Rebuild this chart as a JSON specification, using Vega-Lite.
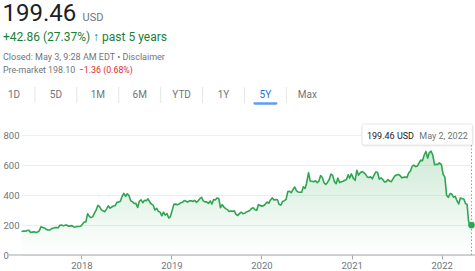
{
  "$schema": "https://vega.github.io/schema/vega-lite/v6.json",
  "width": 475,
  "height": 271,
  "autosize": {"type": "none"},
  "padding": 0,
  "background": "#ffffff",
  "config": {"view": {"stroke": null}, "font": "Roboto", "text": {"font": "Roboto"}},
  "datasets": {
    "prices": [
      {"date": "2017-05-03", "price": 156.6}, {"date": "2017-05-12", "price": 160.3}, {"date": "2017-05-19", "price": 158.0},
      {"date": "2017-05-26", "price": 163.1}, {"date": "2017-06-02", "price": 165.2}, {"date": "2017-06-09", "price": 149.6},
      {"date": "2017-06-16", "price": 152.4}, {"date": "2017-06-23", "price": 155.0}, {"date": "2017-06-30", "price": 149.4},
      {"date": "2017-07-07", "price": 152.6}, {"date": "2017-07-14", "price": 161.1}, {"date": "2017-07-21", "price": 188.5},
      {"date": "2017-07-28", "price": 183.7}, {"date": "2017-08-04", "price": 180.3}, {"date": "2017-08-11", "price": 171.0},
      {"date": "2017-08-18", "price": 166.5}, {"date": "2017-08-25", "price": 166.3}, {"date": "2017-09-01", "price": 174.6},
      {"date": "2017-09-08", "price": 179.0}, {"date": "2017-09-15", "price": 182.3}, {"date": "2017-09-22", "price": 183.0},
      {"date": "2017-09-29", "price": 181.4}, {"date": "2017-10-06", "price": 198.0}, {"date": "2017-10-13", "price": 199.5},
      {"date": "2017-10-20", "price": 194.2}, {"date": "2017-10-27", "price": 199.2}, {"date": "2017-11-03", "price": 199.0},
      {"date": "2017-11-10", "price": 192.0}, {"date": "2017-11-17", "price": 194.1}, {"date": "2017-11-24", "price": 195.8},
      {"date": "2017-12-01", "price": 186.9}, {"date": "2017-12-08", "price": 186.7}, {"date": "2017-12-15", "price": 190.1},
      {"date": "2017-12-22", "price": 189.9}, {"date": "2017-12-29", "price": 192.0}, {"date": "2018-01-05", "price": 205.6},
      {"date": "2018-01-12", "price": 220.3}, {"date": "2018-01-19", "price": 220.5}, {"date": "2018-01-26", "price": 274.6},
      {"date": "2018-02-02", "price": 258.0}, {"date": "2018-02-09", "price": 249.5}, {"date": "2018-02-16", "price": 256.1},
      {"date": "2018-02-23", "price": 278.5}, {"date": "2018-03-02", "price": 301.0}, {"date": "2018-03-09", "price": 331.4},
      {"date": "2018-03-16", "price": 321.4}, {"date": "2018-03-23", "price": 300.9}, {"date": "2018-03-29", "price": 295.4},
      {"date": "2018-04-06", "price": 288.9}, {"date": "2018-04-13", "price": 307.8}, {"date": "2018-04-20", "price": 327.8},
      {"date": "2018-04-27", "price": 311.9}, {"date": "2018-05-04", "price": 320.1}, {"date": "2018-05-11", "price": 326.3},
      {"date": "2018-05-18", "price": 328.5}, {"date": "2018-05-25", "price": 351.3}, {"date": "2018-06-01", "price": 352.6},
      {"date": "2018-06-08", "price": 357.8}, {"date": "2018-06-15", "price": 390.5}, {"date": "2018-06-22", "price": 411.1},
      {"date": "2018-06-29", "price": 391.4}, {"date": "2018-07-06", "price": 408.3}, {"date": "2018-07-13", "price": 395.8},
      {"date": "2018-07-20", "price": 361.0}, {"date": "2018-07-27", "price": 355.2}, {"date": "2018-08-03", "price": 343.4},
      {"date": "2018-08-10", "price": 344.5}, {"date": "2018-08-17", "price": 316.4}, {"date": "2018-08-24", "price": 358.8},
      {"date": "2018-08-31", "price": 367.7}, {"date": "2018-09-07", "price": 348.7}, {"date": "2018-09-14", "price": 364.6},
      {"date": "2018-09-21", "price": 361.2}, {"date": "2018-09-28", "price": 374.1}, {"date": "2018-10-05", "price": 352.5},
      {"date": "2018-10-12", "price": 339.3}, {"date": "2018-10-19", "price": 332.7}, {"date": "2018-10-26", "price": 299.8},
      {"date": "2018-11-02", "price": 311.4}, {"date": "2018-11-09", "price": 291.5}, {"date": "2018-11-16", "price": 285.9},
      {"date": "2018-11-23", "price": 261.4}, {"date": "2018-11-30", "price": 286.1}, {"date": "2018-12-07", "price": 266.3},
      {"date": "2018-12-14", "price": 276.0}, {"date": "2018-12-21", "price": 246.4}, {"date": "2018-12-28", "price": 256.1},
      {"date": "2019-01-04", "price": 297.6}, {"date": "2019-01-11", "price": 337.6}, {"date": "2019-01-18", "price": 339.1},
      {"date": "2019-01-25", "price": 335.7}, {"date": "2019-02-01", "price": 340.0}, {"date": "2019-02-08", "price": 347.6},
      {"date": "2019-02-15", "price": 351.4}, {"date": "2019-02-22", "price": 363.0}, {"date": "2019-03-01", "price": 358.2},
      {"date": "2019-03-08", "price": 352.7}, {"date": "2019-03-15", "price": 361.0}, {"date": "2019-03-22", "price": 361.0},
      {"date": "2019-03-29", "price": 356.6}, {"date": "2019-04-05", "price": 364.8}, {"date": "2019-04-12", "price": 351.1},
      {"date": "2019-04-19", "price": 360.4}, {"date": "2019-04-26", "price": 374.9}, {"date": "2019-05-03", "price": 385.0},
      {"date": "2019-05-10", "price": 360.8}, {"date": "2019-05-17", "price": 354.4}, {"date": "2019-05-24", "price": 354.4},
      {"date": "2019-05-31", "price": 343.3}, {"date": "2019-06-07", "price": 360.9}, {"date": "2019-06-14", "price": 339.7},
      {"date": "2019-06-21", "price": 370.0}, {"date": "2019-06-28", "price": 367.3}, {"date": "2019-07-05", "price": 380.5},
      {"date": "2019-07-12", "price": 376.7}, {"date": "2019-07-19", "price": 315.1}, {"date": "2019-07-26", "price": 335.8},
      {"date": "2019-08-02", "price": 319.5}, {"date": "2019-08-09", "price": 309.4}, {"date": "2019-08-16", "price": 302.8},
      {"date": "2019-08-23", "price": 290.4}, {"date": "2019-08-30", "price": 293.8}, {"date": "2019-09-06", "price": 291.0},
      {"date": "2019-09-13", "price": 294.1}, {"date": "2019-09-20", "price": 270.8}, {"date": "2019-09-27", "price": 263.1},
      {"date": "2019-10-04", "price": 276.0}, {"date": "2019-10-11", "price": 285.3}, {"date": "2019-10-18", "price": 276.0},
      {"date": "2019-10-25", "price": 278.0}, {"date": "2019-11-01", "price": 286.8}, {"date": "2019-11-08", "price": 291.6},
      {"date": "2019-11-15", "price": 296.9}, {"date": "2019-11-22", "price": 310.5}, {"date": "2019-11-29", "price": 314.7},
      {"date": "2019-12-06", "price": 302.0}, {"date": "2019-12-13", "price": 298.5}, {"date": "2019-12-20", "price": 336.9},
      {"date": "2019-12-27", "price": 329.1}, {"date": "2020-01-03", "price": 325.9}, {"date": "2020-01-10", "price": 329.1},
      {"date": "2020-01-17", "price": 339.7}, {"date": "2020-01-24", "price": 353.2}, {"date": "2020-01-31", "price": 345.1},
      {"date": "2020-02-07", "price": 366.8}, {"date": "2020-02-14", "price": 380.4}, {"date": "2020-02-21", "price": 366.6},
      {"date": "2020-02-28", "price": 369.0}, {"date": "2020-03-06", "price": 368.7}, {"date": "2020-03-13", "price": 336.3},
      {"date": "2020-03-20", "price": 332.8}, {"date": "2020-03-27", "price": 357.1}, {"date": "2020-04-03", "price": 361.8},
      {"date": "2020-04-10", "price": 370.7}, {"date": "2020-04-17", "price": 422.9}, {"date": "2020-04-24", "price": 424.0},
      {"date": "2020-05-01", "price": 415.3}, {"date": "2020-05-08", "price": 436.5}, {"date": "2020-05-15", "price": 453.4},
      {"date": "2020-05-22", "price": 429.3}, {"date": "2020-05-29", "price": 419.7}, {"date": "2020-06-05", "price": 418.3},
      {"date": "2020-06-12", "price": 419.0}, {"date": "2020-06-19", "price": 455.0}, {"date": "2020-06-26", "price": 443.4},
      {"date": "2020-07-02", "price": 476.9}, {"date": "2020-07-10", "price": 548.7}, {"date": "2020-07-17", "price": 492.9},
      {"date": "2020-07-24", "price": 492.0}, {"date": "2020-07-31", "price": 488.9}, {"date": "2020-08-07", "price": 494.7},
      {"date": "2020-08-14", "price": 482.7}, {"date": "2020-08-21", "price": 492.0}, {"date": "2020-08-28", "price": 529.6},
      {"date": "2020-09-04", "price": 516.1}, {"date": "2020-09-11", "price": 482.0}, {"date": "2020-09-18", "price": 469.9},
      {"date": "2020-09-25", "price": 483.9}, {"date": "2020-10-02", "price": 503.1}, {"date": "2020-10-09", "price": 539.4},
      {"date": "2020-10-16", "price": 530.7}, {"date": "2020-10-23", "price": 489.1}, {"date": "2020-10-30", "price": 475.7},
      {"date": "2020-11-06", "price": 513.0}, {"date": "2020-11-13", "price": 482.8}, {"date": "2020-11-20", "price": 488.2},
      {"date": "2020-11-27", "price": 491.4}, {"date": "2020-12-04", "price": 498.3}, {"date": "2020-12-11", "price": 503.2},
      {"date": "2020-12-18", "price": 534.5}, {"date": "2020-12-24", "price": 513.0}, {"date": "2020-12-31", "price": 540.7},
      {"date": "2021-01-08", "price": 510.4}, {"date": "2021-01-15", "price": 497.9}, {"date": "2021-01-22", "price": 565.2},
      {"date": "2021-01-29", "price": 532.4}, {"date": "2021-02-05", "price": 548.2}, {"date": "2021-02-12", "price": 556.5},
      {"date": "2021-02-19", "price": 549.0}, {"date": "2021-02-26", "price": 538.9}, {"date": "2021-03-05", "price": 520.7},
      {"date": "2021-03-12", "price": 517.1}, {"date": "2021-03-19", "price": 520.8}, {"date": "2021-03-26", "price": 508.1},
      {"date": "2021-04-01", "price": 530.3}, {"date": "2021-04-09", "price": 553.7}, {"date": "2021-04-16", "price": 549.6},
      {"date": "2021-04-23", "price": 505.6}, {"date": "2021-04-30", "price": 513.5}, {"date": "2021-05-07", "price": 503.8},
      {"date": "2021-05-14", "price": 487.3}, {"date": "2021-05-21", "price": 488.0}, {"date": "2021-05-28", "price": 502.8},
      {"date": "2021-06-04", "price": 492.8}, {"date": "2021-06-11", "price": 488.8}, {"date": "2021-06-18", "price": 508.8},
      {"date": "2021-06-25", "price": 527.1}, {"date": "2021-07-02", "price": 533.5}, {"date": "2021-07-09", "price": 537.3},
      {"date": "2021-07-16", "price": 530.3}, {"date": "2021-07-23", "price": 515.4}, {"date": "2021-07-30", "price": 517.6},
      {"date": "2021-08-06", "price": 519.9}, {"date": "2021-08-13", "price": 515.9}, {"date": "2021-08-20", "price": 546.9},
      {"date": "2021-08-27", "price": 558.9}, {"date": "2021-09-03", "price": 590.5}, {"date": "2021-09-10", "price": 598.7},
      {"date": "2021-09-17", "price": 589.4}, {"date": "2021-09-24", "price": 592.6}, {"date": "2021-10-01", "price": 613.2},
      {"date": "2021-10-08", "price": 632.7}, {"date": "2021-10-15", "price": 628.3}, {"date": "2021-10-22", "price": 664.8},
      {"date": "2021-10-29", "price": 690.3}, {"date": "2021-11-05", "price": 645.7}, {"date": "2021-11-12", "price": 682.6},
      {"date": "2021-11-19", "price": 692.0}, {"date": "2021-11-26", "price": 665.6}, {"date": "2021-12-03", "price": 602.0},
      {"date": "2021-12-10", "price": 605.0}, {"date": "2021-12-17", "price": 604.0}, {"date": "2021-12-23", "price": 614.1},
      {"date": "2021-12-31", "price": 602.4}, {"date": "2022-01-07", "price": 537.2}, {"date": "2022-01-14", "price": 519.2},
      {"date": "2022-01-21", "price": 397.5}, {"date": "2022-01-28", "price": 384.4}, {"date": "2022-02-04", "price": 410.2},
      {"date": "2022-02-11", "price": 406.3}, {"date": "2022-02-18", "price": 385.6}, {"date": "2022-02-25", "price": 390.8},
      {"date": "2022-03-04", "price": 361.7}, {"date": "2022-03-11", "price": 340.3}, {"date": "2022-03-18", "price": 380.6},
      {"date": "2022-03-25", "price": 374.6}, {"date": "2022-04-01", "price": 373.5}, {"date": "2022-04-08", "price": 341.1},
      {"date": "2022-04-14", "price": 338.3}, {"date": "2022-04-20", "price": 226.2}, {"date": "2022-04-22", "price": 215.5},
      {"date": "2022-04-29", "price": 190.4}, {"date": "2022-05-02", "price": 199.46}
    ],
    "last": [{"date": "2022-05-02", "price": 199.46}],
    "tabs": [
      {"tab": "1D"}, {"tab": "5D"}, {"tab": "1M"}, {"tab": "6M"},
      {"tab": "YTD"}, {"tab": "1Y"}, {"tab": "5Y"}, {"tab": "Max"}
    ]
  },
  "resolve": {"scale": {"x": "independent"}},
  "layer": [
    {
      "data": {"name": "prices"},
      "encoding": {
        "x": {
          "field": "date", "type": "temporal",
          "scale": {"range": [21.5, 471.5], "nice": false},
          "axis": {
            "orient": "bottom", "offset": -16, "format": "%Y",
            "tickCount": {"interval": "year", "step": 1},
            "grid": false, "domain": false, "tickSize": 4, "tickColor": "#a6a9ad",
            "labelPadding": 1, "labelColor": "#70757a", "labelFontSize": 9.5,
            "labelFont": "Roboto", "labelFlush": false, "title": null
          }
        },
        "y": {
          "field": "price", "type": "quantitative",
          "scale": {"domain": [0, 800], "range": [255, 135], "nice": false},
          "axis": {
            "values": [0, 200, 400, 600, 800], "grid": true, "gridColor": "#eeeeee",
            "domain": false, "ticks": false, "tickSize": 0, "labelAlign": "left",
            "labelPadding": -3, "labelColor": "#70757a", "labelFontSize": 9.5,
            "labelFont": "Roboto", "title": null
          }
        }
      },
      "layer": [
        {
          "mark": {
            "type": "area",
            "color": {
              "gradient": "linear", "x1": 0, "y1": 1, "x2": 0, "y2": 0,
              "stops": [
                {"offset": 0, "color": "rgba(52,168,83,0)"},
                {"offset": 1, "color": "rgba(52,168,83,0.24)"}
              ]
            }
          }
        },
        {
          "data": {"values": [{"zero": 0}]},
          "mark": {"type": "rule", "color": "#a6a9ad", "strokeWidth": 1},
          "encoding": {"x": {"value": 9}, "x2": {"value": 475}, "y": {"field": "zero", "type": "quantitative"}}
        },
        {
          "mark": {"type": "line", "color": "#2fa552", "strokeWidth": 1.6, "strokeJoin": "round"}
        },
        {
          "data": {"name": "last"},
          "mark": {"type": "rule", "color": "#9aa0a6", "strokeDash": [1.5, 2], "strokeWidth": 1},
          "encoding": {"y": {"datum": 0}, "y2": {"value": 145}}
        },
        {
          "data": {"name": "last"},
          "mark": {"type": "point", "filled": true, "size": 45, "color": "#2fa552", "opacity": 1}
        }
      ]
    },
    {
      "data": {"name": "tabs"},
      "encoding": {
        "x": {
          "field": "tab", "type": "nominal", "sort": null,
          "scale": {
            "type": "band",
            "domain": ["1D", "5D", "1M", "6M", "YTD", "1Y", "5Y", "Max"],
            "range": [-6.95, 328.25], "paddingInner": 0, "paddingOuter": 0
          },
          "axis": null
        }
      },
      "layer": [
        {
          "mark": {"type": "text", "fontSize": 10, "baseline": "middle", "align": "center", "font": "Roboto"},
          "encoding": {
            "text": {"field": "tab"},
            "y": {"value": 95},
            "color": {"condition": {"test": "datum.tab === '5Y'", "value": "#1a73e8"}, "value": "#70757a"}
          }
        },
        {
          "transform": [{"filter": "datum.tab !== '1D'"}],
          "mark": {"type": "rule", "color": "#e6e6e6", "strokeWidth": 1},
          "encoding": {
            "x": {"field": "tab", "type": "nominal", "sort": null, "bandPosition": 0},
            "y": {"value": 87}, "y2": {"value": 103}
          }
        },
        {
          "transform": [{"filter": "datum.tab === '5Y'"}],
          "mark": {"type": "tick", "orient": "horizontal", "thickness": 2.5, "size": 24, "color": "#1a73e8", "cornerRadius": 1.2},
          "encoding": {"y": {"value": 103.5}}
        }
      ]
    },
    {
      "data": {"values": [{"label": "199.46"}]},
      "mark": {"type": "text", "align": "left", "baseline": "alphabetic", "fontSize": 24, "color": "#202124", "font": "Roboto"},
      "encoding": {"text": {"field": "label"}, "x": {"value": 2.5}, "y": {"value": 21}}
    },
    {
      "data": {"values": [{"label": "USD"}]},
      "mark": {"type": "text", "align": "left", "baseline": "alphabetic", "fontSize": 11, "color": "#70757a", "font": "Roboto"},
      "encoding": {"text": {"field": "label"}, "x": {"value": 82.5}, "y": {"value": 21}}
    },
    {
      "data": {"values": [{"label": "+42.86 (27.37%) ↑ past 5 years"}]},
      "mark": {"type": "text", "align": "left", "baseline": "alphabetic", "fontSize": 12, "color": "#188038", "font": "Roboto"},
      "encoding": {"text": {"field": "label"}, "x": {"value": 3}, "y": {"value": 41}}
    },
    {
      "data": {"values": [{"label": "Closed: May 3, 9:28 AM EDT • Disclaimer"}]},
      "mark": {"type": "text", "align": "left", "baseline": "alphabetic", "fontSize": 9, "color": "#70757a", "font": "Roboto"},
      "encoding": {"text": {"field": "label"}, "x": {"value": 3}, "y": {"value": 60}}
    },
    {
      "data": {"values": [{"label": "Pre-market 198.10"}]},
      "mark": {"type": "text", "align": "left", "baseline": "alphabetic", "fontSize": 8.8, "color": "#70757a", "font": "Roboto"},
      "encoding": {"text": {"field": "label"}, "x": {"value": 3}, "y": {"value": 73.3}}
    },
    {
      "data": {"values": [{"label": "−1.36 (0.68%)"}]},
      "mark": {"type": "text", "align": "left", "baseline": "alphabetic", "fontSize": 8.8, "color": "#d93025", "font": "Roboto"},
      "encoding": {"text": {"field": "label"}, "x": {"value": 78.8}, "y": {"value": 73.3}}
    },
    {
      "data": {"values": [{"box": "shadow"}]},
      "mark": {"type": "rect", "fill": "#000000", "opacity": 0.07, "cornerRadius": 3},
      "encoding": {"x": {"value": 361.5}, "x2": {"value": 473.5}, "y": {"value": 124.5}, "y2": {"value": 146.5}}
    },
    {
      "data": {"values": [{"box": "tooltip"}]},
      "mark": {"type": "rect", "fill": "#ffffff", "stroke": "#e3e3e3", "strokeWidth": 0.8, "cornerRadius": 2},
      "encoding": {"x": {"value": 362}, "x2": {"value": 472.5}, "y": {"value": 124}, "y2": {"value": 145}}
    },
    {
      "data": {"values": [{"label": "199.46 USD"}]},
      "mark": {"type": "text", "align": "left", "baseline": "middle", "fontSize": 9, "color": "#202124", "font": "Roboto"},
      "encoding": {"text": {"field": "label"}, "x": {"value": 367}, "y": {"value": 135.5}}
    },
    {
      "data": {"values": [{"label": "May 2, 2022"}]},
      "mark": {"type": "text", "align": "left", "baseline": "middle", "fontSize": 9, "color": "#70757a", "font": "Roboto"},
      "encoding": {"text": {"field": "label"}, "x": {"value": 419.3}, "y": {"value": 135.5}}
    }
  ]
}
